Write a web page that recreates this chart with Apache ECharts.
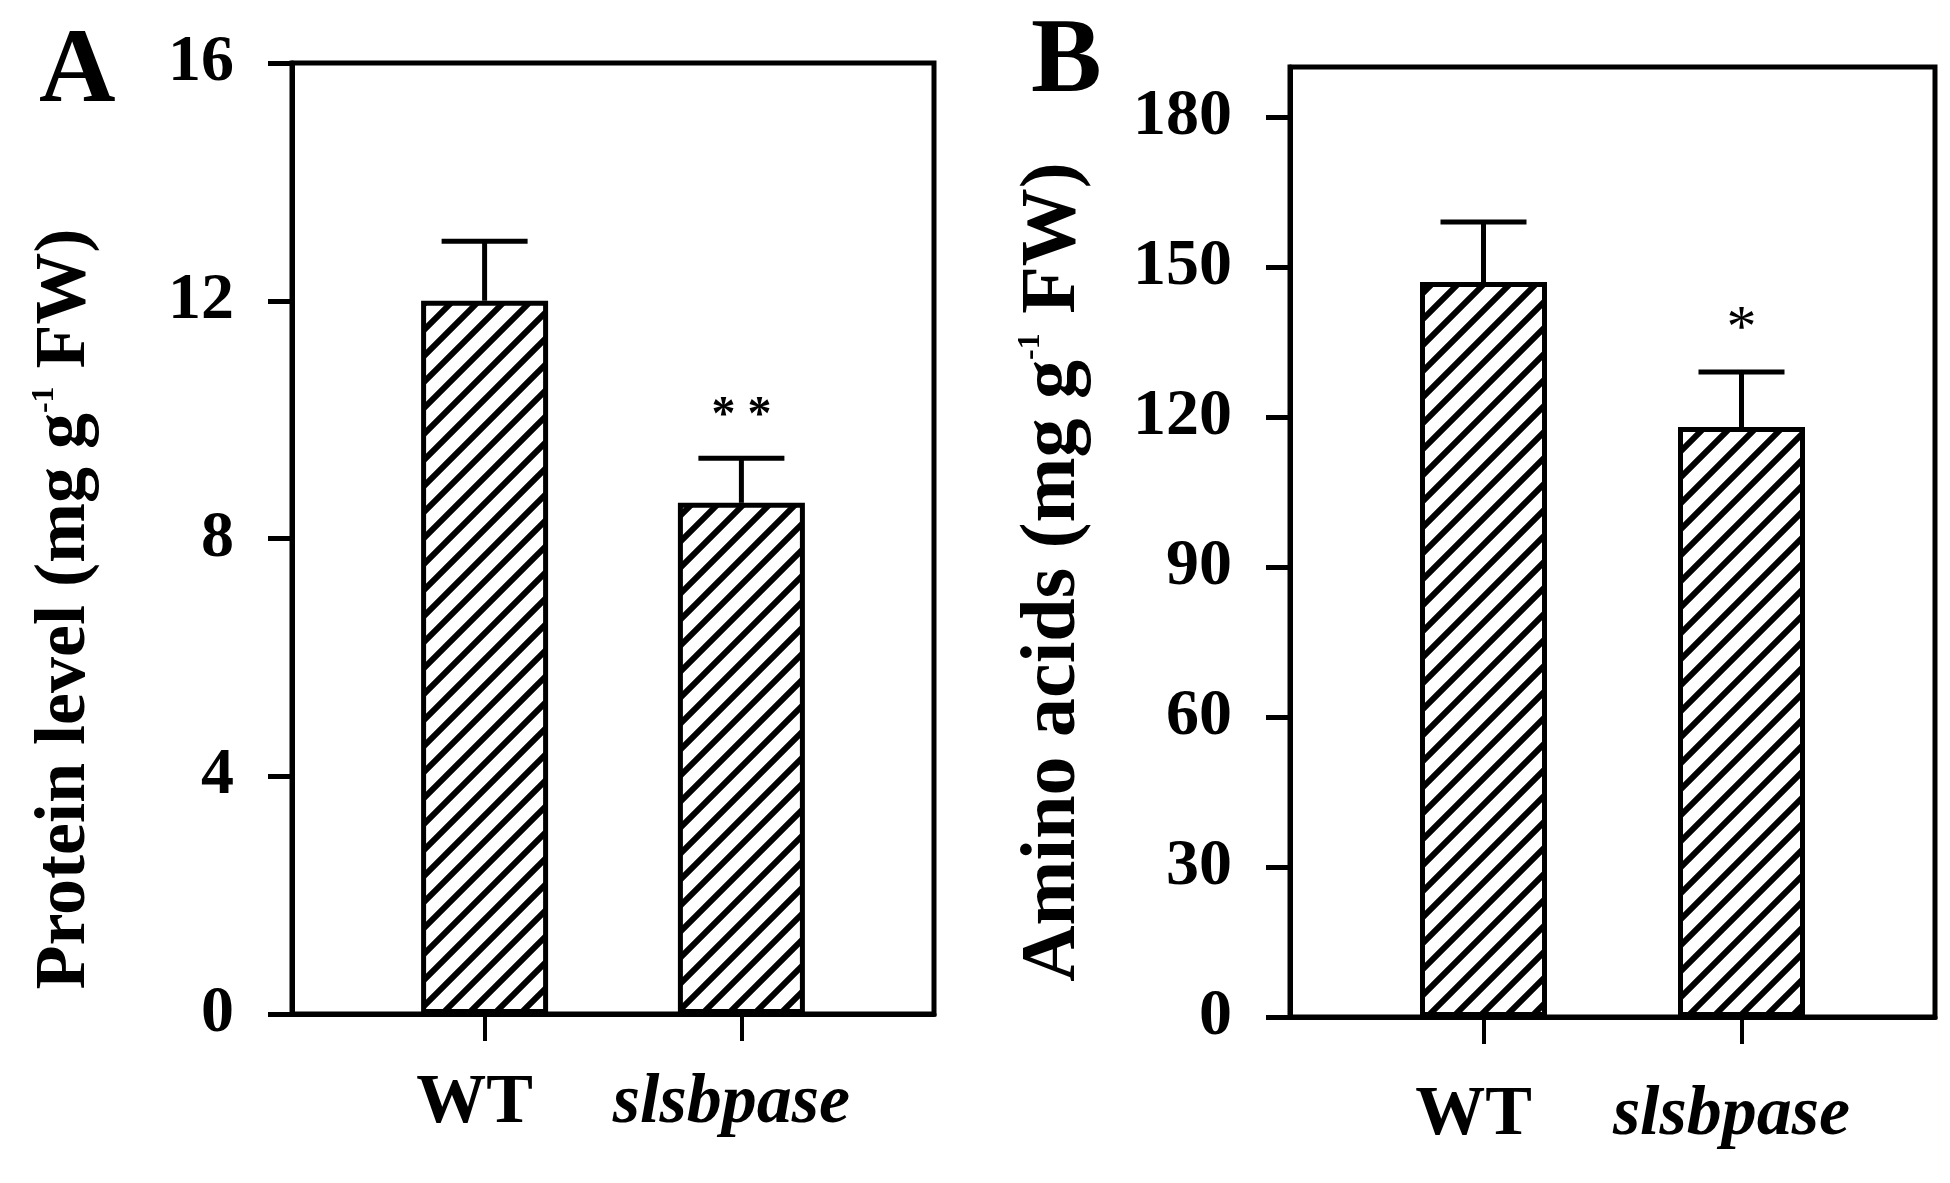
<!DOCTYPE html>
<html>
<head>
<meta charset="utf-8">
<title>Protein level and amino acids</title>
<script src="https://cdn.jsdelivr.net/npm/echarts@6.0.0/dist/echarts.min.js"></script>
<style>
  html, body { margin: 0; padding: 0; background: #fff; }
  #main { width: 1950px; height: 1183px; }
</style>
</head>
<body>
<div id="main"></div>
<script>
// groups on the x axis
var groups = ['WT', 'slsbpase'];

// panel A: protein level (mg g-1 FW)
var proteinMean = [12.0, 8.6];
var proteinErr = [1.0, 0.75];
var proteinSig = ['', '* *'];
var proteinTicks = [0, 4, 8, 12, 16];

// panel B: amino acids (mg g-1 FW)
var aminoMean = [147, 118];
var aminoErr = [12, 11];
var aminoSig = ['', '*'];
var aminoTicks = [0, 30, 60, 90, 120, 150, 180];

var FONT = 'Liberation Serif, Times New Roman, serif';

/**
 * 斜线填充
 */
function hatchPattern() {
    var s = 26;
    var c = document.createElement('canvas');
    c.width = s;
    c.height = s;
    var g = c.getContext('2d');
    g.fillStyle = '#fff';
    g.fillRect(0, 0, s, s);
    g.strokeStyle = '#000';
    g.lineWidth = 6;
    g.beginPath();
    g.moveTo(-s / 2, s / 2); g.lineTo(s / 2, -s / 2);
    g.moveTo(0, s); g.lineTo(s, 0);
    g.moveTo(s / 2, s * 1.5); g.lineTo(s * 1.5, s / 2);
    g.stroke();
    return c;
}

var hatch = { image: hatchPattern(), repeat: 'repeat' };

function xAxisOf(gridIndex, labelMargin) {
    return {
        type: 'value',
        gridIndex: gridIndex,
        min: -0.75,
        max: 1.75,
        splitLine: { show: false },
        axisLine: { show: true, onZero: false, lineStyle: { color: '#000', width: 5 } },
        axisTick: { show: true, length: 27, customValues: [0, 1], lineStyle: { color: '#000', width: 4 } },
        axisLabel: {
            customValues: [0, 1],
            margin: labelMargin,
            padding: [0, 20, 0, 0],
            formatter: function (v) {
                return v === 1 ? '{i|' + groups[v] + '}' : '{n|' + groups[v] + '}';
            },
            rich: {
                n: { fontFamily: FONT, fontWeight: 'bold', fontSize: 70, color: '#000' },
                i: { fontFamily: FONT, fontWeight: 'bold', fontStyle: 'italic', fontSize: 70, color: '#000' }
            }
        }
    };
}

function yAxisOf(gridIndex, max, interval, ticks) {
    return {
        type: 'value',
        gridIndex: gridIndex,
        min: 0,
        max: max,
        interval: interval,
        splitLine: { show: false },
        axisLine: { show: true, onZero: false, lineStyle: { color: '#000', width: 5 } },
        axisTick: { show: true, length: 24, customValues: ticks, lineStyle: { color: '#000', width: 5 } },
        axisLabel: {
            customValues: ticks,
            margin: 58,
            fontFamily: FONT,
            fontWeight: 'bold',
            fontSize: 66,
            color: '#000'
        }
    };
}

function barSeries(axisIndex, mean) {
    return {
        type: 'bar',
        xAxisIndex: axisIndex,
        yAxisIndex: axisIndex,
        barWidth: 127,
        data: mean.map(function (v, i) { return [i, v]; }),
        itemStyle: { color: hatch, borderColor: '#000', borderWidth: 5 },
        z: 2
    };
}

function errorSeries(axisIndex, mean, err, sig, starFont) {
    return {
        type: 'custom',
        xAxisIndex: axisIndex,
        yAxisIndex: axisIndex,
        data: mean.map(function (v, i) { return [i, v, err[i]]; }),
        encode: { x: 0, y: 1 },
        z: 3,
        renderItem: function (params, api) {
            var x = api.value(0), m = api.value(1), e = api.value(2);
            var p0 = api.coord([x, m]);
            var p1 = api.coord([x, m + e]);
            var st = { stroke: '#000', lineWidth: 5 };
            return {
                type: 'group',
                children: [
                    { type: 'line', shape: { x1: p0[0], y1: p0[1], x2: p1[0], y2: p1[1] }, style: st },
                    { type: 'line', shape: { x1: p1[0] - 43, y1: p1[1], x2: p1[0] + 43, y2: p1[1] }, style: st },
                    {
                        type: 'text',
                        style: {
                            text: sig[params.dataIndex],
                            x: p1[0],
                            y: p1[1] - 42,
                            align: 'center',
                            verticalAlign: 'middle',
                            font: starFont + ' ' + FONT,
                            fill: '#000'
                        }
                    }
                ]
            };
        }
    };
}

function yTitle(x, y, size, main) {
    return {
        type: 'text',
        x: x,
        y: y,
        rotation: Math.PI / 2,
        style: {
            text: '{t|' + main + ' (mg g}{s|-1}{t| FW)}',
            align: 'center',
            verticalAlign: 'middle',
            rich: {
                t: { fontFamily: FONT, fontWeight: 'bold', fontSize: size, lineHeight: size, fill: '#000' },
                s: { fontFamily: FONT, fontWeight: 'bold', fontSize: 32, lineHeight: size, verticalAlign: 'top', fill: '#000' }
            }
        }
    };
}

var option = {
    animation: false,
    backgroundColor: '#fff',
    grid: [
        { left: 292, top: 63, width: 642, height: 951, show: true, borderColor: '#000', borderWidth: 5 },
        { left: 1290, top: 67, width: 645, height: 950, show: true, borderColor: '#000', borderWidth: 5 }
    ],
    xAxis: [xAxisOf(0, 55), xAxisOf(1, 64)],
    yAxis: [yAxisOf(0, 16, 4, proteinTicks), yAxisOf(1, 190, 30, aminoTicks)],
    series: [
        barSeries(0, proteinMean),
        errorSeries(0, proteinMean, proteinErr, proteinSig, 'bold 48px'),
        barSeries(1, aminoMean),
        errorSeries(1, aminoMean, aminoErr, aminoSig, '60px')
    ],
    graphic: [
        { type: 'text', x: 39, y: 74, style: { text: 'A', font: 'bold 106px ' + FONT, fill: '#000', verticalAlign: 'middle' } },
        { type: 'text', x: 1031, y: 64, style: { text: 'B', font: 'bold 106px ' + FONT, fill: '#000', verticalAlign: 'middle' } },
        yTitle(65, 609, 72, 'Protein level'),
        yTitle(1054, 572, 78, 'Amino acids')
    ]
};

var chart = echarts.init(document.getElementById('main'));
chart.setOption(option);
</script>
</body>
</html>
